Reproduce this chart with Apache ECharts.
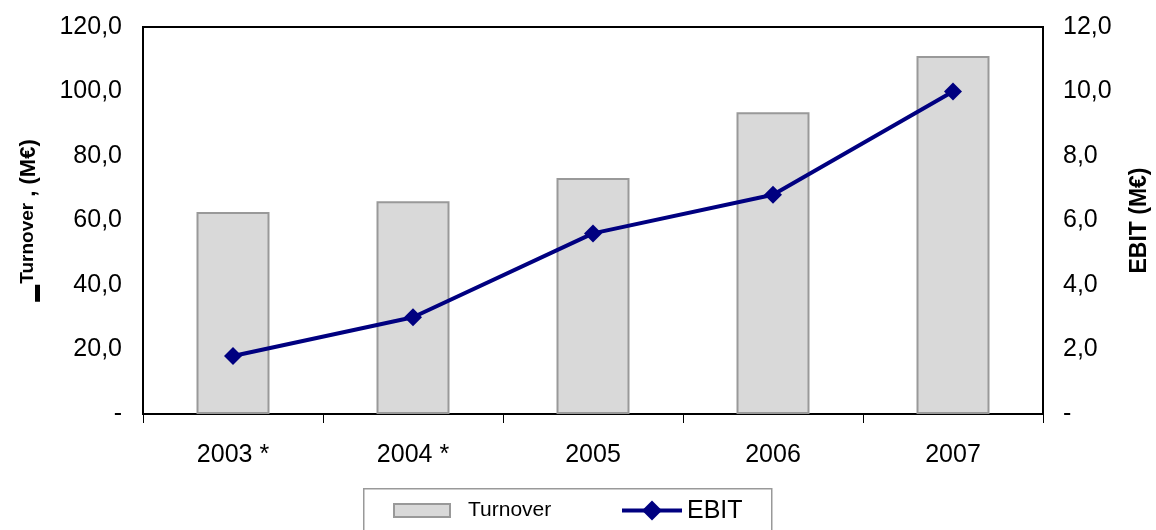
<!DOCTYPE html>
<html>
<head>
<meta charset="utf-8">
<script src="https://cdn.jsdelivr.net/npm/echarts@6/dist/echarts.min.js"></script>
<style>
  html, body { margin: 0; padding: 0; background: #fff; }
  #chart { width: 1156px; height: 530px; }
</style>
</head>
<body>
<div id="chart"></div>
<script>
// Yearly figures, millions of euro
const years = ['2003 *', '2004 *', '2005', '2006', '2007'];
const turnover = [62.6, 66.0, 73.2, 93.6, 111.0];
const ebit = [1.8, 3.0, 5.6, 6.8, 10.0];

const fmt = v => v === 0 ? '-' : v.toFixed(1).replace('.', ',');
const FONT = '"Liberation Sans", Arial, sans-serif';

const chart = echarts.init(document.getElementById('chart'));
chart.setOption({
  animation: false,
  textStyle: { fontFamily: FONT },
  grid: {
    left: 143, right: 113, top: 27, bottom: 116,
    outerBoundsMode: 'none',
    containLabel: false,
    show: true, borderColor: '#000', borderWidth: 2
  },
  graphic: [{
    type: 'rect',
    left: 363, top: 488,
    shape: { width: 408, height: 60 },
    style: { fill: '#fff', stroke: '#999', lineWidth: 1.5 },
    z: 1
  }],
  legend: [{
    data: [{ name: 'Turnover', icon: 'rect' }],
    left: 393, top: 500,
    padding: 0,
    itemWidth: 56, itemHeight: 13,
    formatter: '{t|{name}}',
    itemStyle: { color: '#d9d9d9', borderColor: '#999', borderWidth: 2 },
    textStyle: {
      rich: { t: { fontSize: 21, color: '#000', fontFamily: FONT, padding: [0, 0, 0, 13] } }
    },
    z: 5
  }, {
    data: ['EBIT'],
    left: 620, top: 499,
    padding: 0,
    itemWidth: 60, itemHeight: 25,
    formatter: '{t|{name}}',
    lineStyle: { width: 4, color: '#000080' },
    itemStyle: { color: '#000080' },
    textStyle: {
      rich: { t: { fontSize: 25, color: '#000', fontFamily: FONT, padding: [2, 0, 0, 0] } }
    },
    z: 5
  }],
  xAxis: {
    type: 'category',
    data: years,
    boundaryGap: true,
    axisLine: { lineStyle: { color: '#000', width: 2 } },
    axisTick: { show: true, length: 9, lineStyle: { color: '#000', width: 1 } },
    axisLabel: { fontSize: 25, color: '#000', margin: 29, fontFamily: FONT },
    splitLine: { show: false }
  },
  yAxis: [{
    type: 'value',
    min: 0, max: 120, interval: 20,
    position: 'left',
    axisLine: { show: true, lineStyle: { color: '#000', width: 2 } },
    axisTick: { show: false },
    splitLine: { show: false },
    axisLabel: { fontSize: 25, color: '#000', margin: 21, formatter: fmt, fontFamily: FONT },
    name: '{bar|}{sup|Turnover}{txt| , (M€)}',
    nameLocation: 'middle',
    nameRotate: 90,
    nameGap: 103,
    nameTextStyle: {
      rich: {
        bar: { width: 17, height: 5, backgroundColor: '#000', verticalAlign: 'bottom' },
        sup: { fontSize: 19, fontWeight: 'bold', color: '#000', fontFamily: FONT, verticalAlign: 'top', padding: [0, 0, 0, 1] },
        txt: { fontSize: 22, fontWeight: 'bold', color: '#000', fontFamily: FONT, verticalAlign: 'bottom' }
      }
    }
  }, {
    type: 'value',
    min: 0, max: 12, interval: 2,
    position: 'right',
    axisLine: { show: true, lineStyle: { color: '#000', width: 2 } },
    axisTick: { show: false },
    splitLine: { show: false },
    axisLabel: { fontSize: 25, color: '#000', margin: 20, formatter: fmt, fontFamily: FONT },
    name: 'EBIT (M€)',
    nameLocation: 'middle',
    nameRotate: 90,
    nameGap: 85,
    nameTextStyle: { fontSize: 23, fontWeight: 'bold', color: '#000', fontFamily: FONT }
  }],
  series: [{
    name: 'Turnover',
    type: 'bar',
    yAxisIndex: 0,
    data: turnover,
    barWidth: 73,
    itemStyle: { color: '#d9d9d9', borderColor: '#999', borderWidth: 2 }
  }, {
    name: 'EBIT',
    type: 'line',
    yAxisIndex: 1,
    data: ebit,
    symbol: 'diamond',
    symbolSize: 18,
    lineStyle: { color: '#000080', width: 4 },
    itemStyle: { color: '#000080' }
  }]
});
</script>
</body>
</html>
